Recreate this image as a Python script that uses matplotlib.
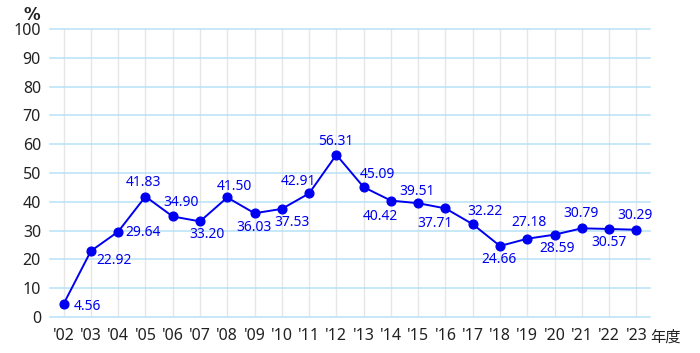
import matplotlib.pyplot as plt

plt.rcParams['font.family'] = ['Noto Sans', 'Noto Sans CJK JP', 'DejaVu Sans']

# data
years = ["'02", "'03", "'04", "'05", "'06", "'07", "'08", "'09", "'10", "'11", "'12",
         "'13", "'14", "'15", "'16", "'17", "'18", "'19", "'20", "'21", "'22", "'23"]
values = [4.56, 22.92, 29.64, 41.83, 34.90, 33.20, 41.50, 36.03, 37.53, 42.91, 56.31,
          45.09, 40.42, 39.51, 37.71, 32.22, 24.66, 27.18, 28.59, 30.79, 30.57, 30.29]

# label offsets from each point, in pixels (right, down)
label_dx = [24, 23, 25, -2, 8, 7, 7, -1, 10, -11, -1,
            14, -11, -1, -10, 12, -1, 2, 3, -1, 0, -1]
label_dy = [3, 10, 1, -14, -14, 13, -11, 14, 14, -12, -13,
            -13, 16, -12, 15, -13, 14, -16, 14, -15, 14, -14]

blue = '#0000f0'
x = list(range(len(years)))

fig = plt.figure(figsize=(7, 3.53), dpi=100)
ax = fig.add_axes([50 / 700, 36 / 353, 600 / 700, 288 / 353])

for v in range(0, 101, 10):
    ax.axhline(v, color='#b5e1f7', lw=1.1, zorder=1, clip_on=False)
for i in x:
    ax.axvline(i, color='#e6e6e6', lw=1, zorder=0)

ax.plot(x, values, color=blue, lw=1.4, marker='o', markersize=6.3, zorder=3, clip_on=False)

px = 72 / 100
for i, v in enumerate(values):
    ax.annotate(f"{v:.2f}", (i, v), xytext=(label_dx[i] * px, -label_dy[i] * px),
                textcoords='offset points', ha='center', va='center',
                color=blue, fontsize=10)

ax.set_xlim(-0.5, len(years) - 0.5)
ax.set_ylim(0, 100)
ax.set_yticks(range(0, 101, 10))
ax.set_xticks(x)
ax.set_xticklabels(years)
ax.tick_params(length=0, labelsize=11.5, colors='#222222')
ax.tick_params(axis='x', pad=8)
ax.tick_params(axis='y', pad=6.5)
for s in ax.spines.values():
    s.set_visible(False)

fig.text(32 / 700, 1 - 15 / 353, '%', ha='center', va='center', fontsize=12,
         fontweight='bold', color='#222222', family=['DejaVu Sans'])
fig.text(650 / 700, 1 - 337 / 353, '年度', ha='left', va='center', fontsize=11,
         color='#222222', family=['Noto Sans CJK JP'])

fig.savefig('out.png', dpi=100)
